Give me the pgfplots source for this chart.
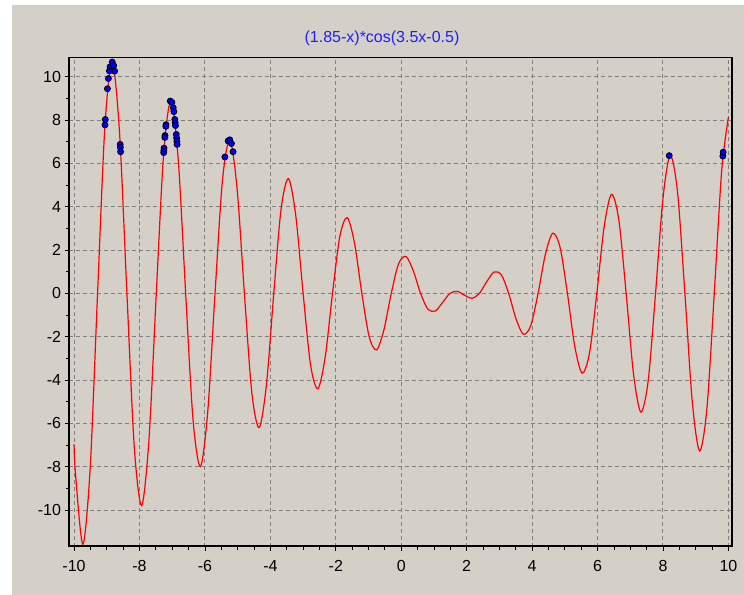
\documentclass[border=0pt]{standalone}
\usepackage{pgfplots}
\pgfplotsset{compat=1.18}
\usepackage{fontspec}
\setmainfont{Liberation Sans}
\definecolor{panel}{RGB}{212,208,200}
\definecolor{gridgray}{RGB}{128,128,128}
\definecolor{titleblue}{RGB}{32,32,255}
\begin{document}
\begin{tikzpicture}[x=1bp,y=1bp]
\fill[white] (0,0) rectangle (744,595);
\fill[panel] (12,0) rectangle (744,590);
\node[text=titleblue, font=\fontsize{16bp}{19bp}\selectfont] at (382,557) {(1.85-x)*cos(3.5x-0.5)};
\begin{axis}[
  at={(68.5bp,48.3bp)}, anchor=south west,
  scale only axis, width=663.5bp, height=489.4bp,
  xmin=-10.17, xmax=10.11, ymin=-11.69, ymax=10.9,
  axis background/.style={fill=panel},
  xtick={-10,-8,...,10}, xticklabels={-10,-8,-6,-4,-2,0,2,4,6,8,10},
  ytick={-10,-8,...,10}, yticklabels={-10,-8,-6,-4,-2,0,2,4,6,8,10},
  minor x tick num=3, minor y tick num=1,
  tick align=outside, xtick pos=bottom, ytick pos=left,
  major tick length=4bp, minor tick length=3bp,
  tick style={black, line width=0.8bp},
  grid=major, major grid style={gridgray, dash pattern=on 4bp off 3bp, line width=1bp},
  axis line style={black, line width=1.5bp},
  tick label style={font=\fontsize{16bp}{19bp}\selectfont, black},
  xticklabel style={yshift=-6bp},
]
\addplot[red, line width=1.2bp, smooth] coordinates {
(-10,-6.965) (-9.9551,-8.348) (-9.7307,-11.581) (-9.5063,-8.030) (-9.2819,0)
(-9.0575,7.713) (-8.8331,10.683) (-8.6087,7.396) (-8.3843,0) (-8.1599,-7.078)
(-7.9355,-9.786) (-7.7111,-6.761) (-7.4867,0) (-7.2623,6.443) (-7.0379,8.888)
(-6.8135,6.126) (-6.5891,0) (-6.3647,-5.809) (-6.1403,-7.990) (-5.9159,-5.491)
(-5.6915,0) (-5.4671,5.174) (-5.2427,7.093) (-5.0183,4.857) (-4.7939,0)
(-4.5695,-4.539) (-4.3451,-6.195) (-4.1207,-4.222) (-3.8963,0) (-3.6719,3.905)
(-3.4475,5.298) (-3.2231,3.587) (-2.9987,0) (-2.7743,-3.270) (-2.5499,-4.400)
(-2.3255,-2.953) (-2.1011,0) (-1.8767,2.635) (-1.6523,3.502) (-1.4279,2.318)
(-1.2035,0) (-0.9791,-2.001) (-0.7547,-2.605) (-0.5303,-1.683) (-0.3059,0)
(-0.0815,1.366) (0.1429,1.707) (0.3673,1.049) (0.5917,0) (0.8161,-0.731)
(1.0405,-0.810) (1.2649,-0.414) (1.4893,0) (1.7137,0.096) (1.9381,-0.088)
(2.1625,-0.221) (2.3869,0) (2.6113,0.538) (2.8357,0.986) (3.0601,0.856)
(3.2845,0) (3.5089,-1.173) (3.7332,-1.883) (3.9576,-1.490) (4.1820,0)
(4.4064,1.808) (4.6308,2.781) (4.8552,2.125) (5.0796,0) (5.3040,-2.442)
(5.5284,-3.678) (5.7528,-2.760) (5.9772,0) (6.2016,3.077) (6.4260,4.576)
(6.6504,3.394) (6.8748,0) (7.0992,-3.712) (7.3236,-5.474) (7.5480,-4.029)
(7.7724,0) (7.9968,4.347) (8.2212,6.371) (8.4456,4.664) (8.6700,0)
(8.8944,-4.981) (9.1188,-7.269) (9.3432,-5.299) (9.5676,0) (9.7920,5.616)
(10,8.137)
};
\addplot[only marks, mark=*, mark size=3bp, mark options={draw=black, fill=blue, line width=0.8bp}] coordinates {
(-8.833,10.68) (-8.90,10.46) (-8.79,10.52) (-8.76,10.26) (-8.92,10.27)
(-8.95,9.92) (-8.98,9.45) (-9.045,8.03) (-9.055,7.78)
(-8.59,6.88) (-8.585,6.74) (-8.578,6.54)
(-7.06,8.88) (-7.01,8.82) (-6.97,8.57) (-6.95,8.39) (-6.92,8.03) (-6.91,7.89) (-6.90,7.75)
(-6.875,7.34) (-6.865,7.17) (-6.857,7.02) (-6.85,6.88)
(-7.19,7.79) (-7.195,7.71) (-7.22,7.29) (-7.225,7.20) (-7.25,6.71) (-7.255,6.60) (-7.26,6.50)
(-5.29,7.04) (-5.24,7.09) (-5.19,6.92) (-5.14,6.54) (-5.39,6.30)
(8.19,6.36)
(9.83,6.34) (9.84,6.52)
};
\draw[black, line width=3bp] (rel axis cs:0,1) -- (rel axis cs:0,0) -- (rel axis cs:1,0);
\end{axis}
\pgfresetboundingbox
\useasboundingbox (0,0) rectangle (744,595);
\end{tikzpicture}
\end{document}
